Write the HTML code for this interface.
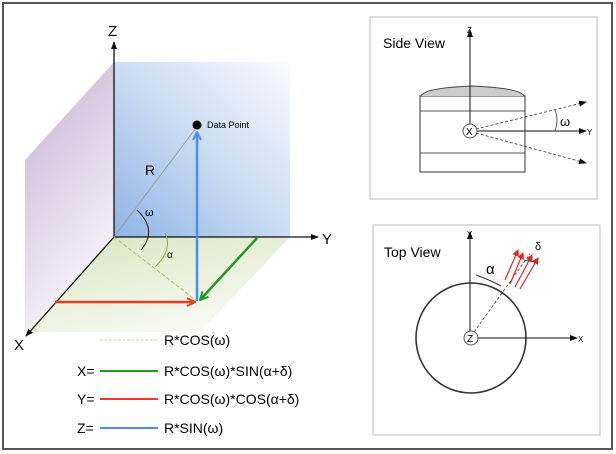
<!DOCTYPE html>
<html><head><meta charset="utf-8"><style>
body{margin:0;background:#fff;}
svg{display:block;font-family:"Liberation Sans","DejaVu Sans",sans-serif;}
</style></head><body>
<svg width="616" height="454" viewBox="0 0 616 454">
<defs>
<linearGradient id="gb" x1="0" y1="1" x2="1" y2="0"><stop offset="0" stop-color="#8fb4e6"/><stop offset="0.5" stop-color="#cadcf2"/><stop offset="1" stop-color="#fafcfe"/></linearGradient>
<linearGradient id="gp" x1="0" y1="0" x2="0.4" y2="1"><stop offset="0" stop-color="#bfa8cf"/><stop offset="1" stop-color="#f7f4f9"/></linearGradient>
<linearGradient id="gg" x1="0" y1="0" x2="0.6" y2="1"><stop offset="0" stop-color="#d8e4be"/><stop offset="1" stop-color="#f8faf3"/></linearGradient>
<marker id="ak" markerWidth="8" markerHeight="8" refX="7" refY="4" orient="auto" markerUnits="userSpaceOnUse"><path d="M0,1 L8,4 L0,7 Z" fill="#111"/></marker>
<marker id="ar" markerWidth="10" markerHeight="10" refX="9" refY="5" orient="auto" markerUnits="userSpaceOnUse"><path d="M1,1 L9,5 L1,9" fill="none" stroke="#f03a1e" stroke-width="2"/></marker>
<marker id="abl" markerWidth="10" markerHeight="10" refX="9" refY="5" orient="auto" markerUnits="userSpaceOnUse"><path d="M1,1 L9,5 L1,9" fill="none" stroke="#4a8ef0" stroke-width="2"/></marker>
<marker id="agr" markerWidth="10" markerHeight="10" refX="9" refY="5" orient="auto" markerUnits="userSpaceOnUse"><path d="M1,1 L9,5 L1,9" fill="none" stroke="#1f9a1f" stroke-width="2"/></marker>
<marker id="ared" markerWidth="7" markerHeight="7" refX="6" refY="3.5" orient="auto" markerUnits="userSpaceOnUse"><path d="M0,0 L7,3.5 L0,7 Z" fill="#e52222"/></marker>
</defs>
<rect x="3" y="3" width="609" height="446" fill="#fff" stroke="#555" stroke-width="2"/>
<polygon points="114,62 25,160 25,335 114,237" fill="url(#gp)" opacity="0.9"/>
<polygon points="114,237 290,237 200,332 25,332" fill="url(#gg)"/>
<rect x="114" y="62" width="176" height="175" fill="url(#gb)"/>
<line x1="114" y1="237" x2="114" y2="42" stroke="#111" stroke-width="1.3" marker-end="url(#ak)"/>
<line x1="114" y1="237" x2="318" y2="237" stroke="#111" stroke-width="1.3" marker-end="url(#ak)"/>
<line x1="114" y1="237" x2="26" y2="336" stroke="#111" stroke-width="1.3" marker-end="url(#ak)"/>
<text x="108" y="36" font-size="15">Z</text>
<text x="322" y="244" font-size="15">Y</text>
<text x="14" y="350" font-size="15">X</text>
<line x1="114" y1="237" x2="196" y2="128" stroke="#999" stroke-width="1"/>
<text x="145" y="175" font-size="14">R</text>
<line x1="114" y1="237" x2="197" y2="301" stroke="#a9c06a" stroke-width="1" stroke-dasharray="4,2"/>
<path d="M137,210 Q158,230 141,250" fill="none" stroke="#222" stroke-width="1"/>
<text x="145" y="216" font-size="11">ω</text>
<path d="M165,233 Q173,250 155,267" fill="none" stroke="#8aab4a" stroke-width="1"/>
<text x="167" y="258" font-size="10">α</text>
<line x1="197" y1="301" x2="197" y2="132" stroke="#4a8ef0" stroke-width="2.5" marker-end="url(#abl)"/>
<line x1="55" y1="302" x2="195" y2="302" stroke="#f03a1e" stroke-width="2.5" marker-end="url(#ar)"/>
<line x1="257" y1="238" x2="200" y2="300" stroke="#1f9a1f" stroke-width="2.5" marker-end="url(#agr)"/>
<circle cx="197" cy="125" r="4.5" fill="#000"/>
<text x="207" y="128" font-size="9">Data Point</text>
<line x1="100" y1="340" x2="158" y2="340" stroke="#c4d49a" stroke-width="1" stroke-dasharray="3,1.5"/>
<line x1="100" y1="371" x2="158" y2="371" stroke="#1f9a1f" stroke-width="2"/>
<line x1="100" y1="399" x2="158" y2="399" stroke="#f03a1e" stroke-width="2"/>
<line x1="100" y1="428" x2="158" y2="428" stroke="#4a8ef0" stroke-width="2"/>
<g font-size="14">
<text x="164" y="345">R*COS(ω)</text>
<text x="77" y="376">X=</text><text x="164" y="376">R*COS(ω)*SIN(α+δ)</text>
<text x="77" y="404">Y=</text><text x="164" y="404">R*COS(ω)*COS(α+δ)</text>
<text x="77" y="433">Z=</text><text x="164" y="433">R*SIN(ω)</text>
</g>
<rect x="370" y="17" width="227" height="182" fill="#fff" stroke="#bbb" stroke-width="1"/>
<text x="383" y="48" font-size="14">Side View</text>
<rect x="420" y="96" width="105" height="76" fill="#fff" stroke="#333" stroke-width="1"/>
<path d="M421,96 Q424,88 472,86 Q520,88 524,96" fill="#ccc" stroke="#444" stroke-width="1"/>
<line x1="420" y1="111" x2="525" y2="111" stroke="#555"/>
<line x1="420" y1="153" x2="525" y2="153" stroke="#555"/>
<line x1="470" y1="131" x2="470" y2="30" stroke="#111" stroke-width="1" marker-end="url(#ak)"/>
<text x="467" y="33" font-size="8">Z</text>
<line x1="476" y1="131" x2="586" y2="131" stroke="#111" stroke-width="1" marker-end="url(#ak)"/>
<text x="587" y="135" font-size="8">Y</text>
<line x1="476" y1="129" x2="586" y2="102" stroke="#333" stroke-width="0.8" stroke-dasharray="3,2" marker-end="url(#ak)"/>
<line x1="476" y1="133" x2="586" y2="163" stroke="#333" stroke-width="0.8" stroke-dasharray="3,2" marker-end="url(#ak)"/>
<path d="M555,110 Q559,120 555,131" fill="none" stroke="#333" stroke-width="0.8"/>
<text x="560" y="126" font-size="13">ω</text>
<circle cx="470" cy="131" r="7" fill="#fff" stroke="#555" stroke-width="1"/>
<text x="466" y="135" font-size="10">X</text>
<rect x="373" y="225" width="227" height="210" fill="#fff" stroke="#bbb" stroke-width="1"/>
<text x="384" y="257" font-size="14">Top View</text>
<circle cx="471" cy="338" r="55" fill="none" stroke="#333" stroke-width="1.6"/>
<line x1="470" y1="338" x2="470" y2="232" stroke="#111" stroke-width="1" marker-end="url(#ak)"/>
<text x="467" y="237" font-size="8">Y</text>
<line x1="477" y1="338" x2="577" y2="338" stroke="#111" stroke-width="1" marker-end="url(#ak)"/>
<text x="578" y="342" font-size="8">X</text>
<line x1="474" y1="332" x2="530" y2="254" stroke="#333" stroke-width="0.8" stroke-dasharray="3,2"/>
<path d="M476,275 Q490,280 501,286" fill="none" stroke="#333" stroke-width="1"/>
<text x="486" y="274" font-size="15">α</text>
<line x1="505" y1="280" x2="518" y2="250" stroke="#e52222" stroke-width="1.2" marker-end="url(#ared)"/>
<line x1="510" y1="284" x2="523" y2="253" stroke="#e52222" stroke-width="1.2" marker-end="url(#ared)"/>
<line x1="515" y1="287" x2="532" y2="255" stroke="#e52222" stroke-width="1.2" marker-end="url(#ared)"/>
<line x1="520" y1="289" x2="538" y2="258" stroke="#e52222" stroke-width="1.2" marker-end="url(#ared)"/>
<line x1="524" y1="260" x2="535" y2="262" stroke="#222" stroke-width="0.8"/>
<text x="535" y="250" font-size="11">δ</text>
<circle cx="471" cy="338" r="7" fill="#fff" stroke="#555" stroke-width="1"/>
<text x="467" y="342" font-size="10">Z</text>
</svg>
</body></html>
